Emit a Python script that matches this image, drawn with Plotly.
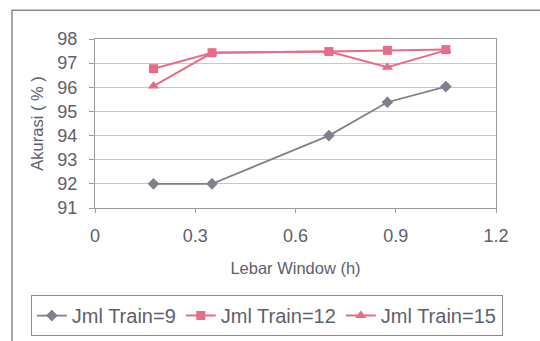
import plotly.graph_objects as go

x_vals = [0.175, 0.35, 0.7, 0.875, 1.05]
train9 = [92.0, 92.0, 94.0, 95.38, 96.03]
train12 = [96.77, 97.43, 97.48, 97.53, 97.56]
train15 = [96.05, 97.43, 97.48, 96.83, 97.53]
x_ticks = [0, 0.3, 0.6, 0.9, 1.2]
x_tick_labels = ["0", "0.3", "0.6", "0.9", "1.2"]
y_ticks = [91, 92, 93, 94, 95, 96, 97, 98]

gray = "#80808c"
pink = "#e86c88"
font = "Liberation Sans, Arial, sans-serif"
txt = "#60606a"

fig = go.Figure()
fig.add_trace(go.Scatter(x=x_vals, y=train9, mode="lines+markers", name="Jml Train=9",
                         line=dict(color=gray, width=1.8),
                         marker=dict(symbol="diamond", size=9, color=gray)))
fig.add_trace(go.Scatter(x=x_vals, y=train12, mode="lines+markers", name="Jml Train=12",
                         line=dict(color=pink, width=2),
                         marker=dict(symbol="square", size=9, color=pink)))
fig.add_trace(go.Scatter(x=x_vals, y=train15, mode="lines+markers", name="Jml Train=15",
                         line=dict(color=pink, width=2),
                         marker=dict(symbol="triangle-up", size=10, color=pink)))

fig.update_layout(
    width=540, height=341,
    margin=dict(l=95, r=44, t=39, b=133, autoexpand=False),
    paper_bgcolor="white", plot_bgcolor="white",
    font=dict(family=font, color=txt),
    showlegend=True,
    legend=dict(orientation="h", x=-0.16, xanchor="left", y=-0.515, yanchor="top",
                bordercolor="#8a8a90", borderwidth=1, font=dict(size=20, color=txt),
                traceorder="normal", tracegroupgap=0),
    xaxis=dict(range=[0, 1.2], tickvals=x_ticks, ticktext=x_tick_labels,
               tickfont=dict(size=18), showgrid=False, zeroline=False, automargin=False,
               showline=True, linecolor="#9a9aa0", mirror=True,
               ticks="outside", ticklen=4, tickcolor="#9a9aa0", ticklabelstandoff=7,
               title=dict(text="Lebar Window (h)", font=dict(size=16.5), standoff=17)),
    yaxis=dict(range=[91, 98], tickvals=y_ticks, tickfont=dict(size=18), automargin=False,
               showgrid=True, gridcolor="#c8c8cc", zeroline=False,
               showline=True, linecolor="#9a9aa0", mirror=True,
               ticks="outside", ticklen=5, tickcolor="#9a9aa0", ticklabelstandoff=8,
               title=dict(text="Akurasi ( % )", font=dict(size=16.5), standoff=9)),
    shapes=[
        dict(type="rect", xref="paper", yref="paper", x0=-0.207, x1=1.2, y0=-0.85, y1=1.17,
             line=dict(color="#8a8a90", width=1.5), fillcolor="rgba(0,0,0,0)", layer="above"),
    ],
)

fig.write_html("out.html", config={"displayModeBar": False},
               post_script="document.body.style.margin='0';")
